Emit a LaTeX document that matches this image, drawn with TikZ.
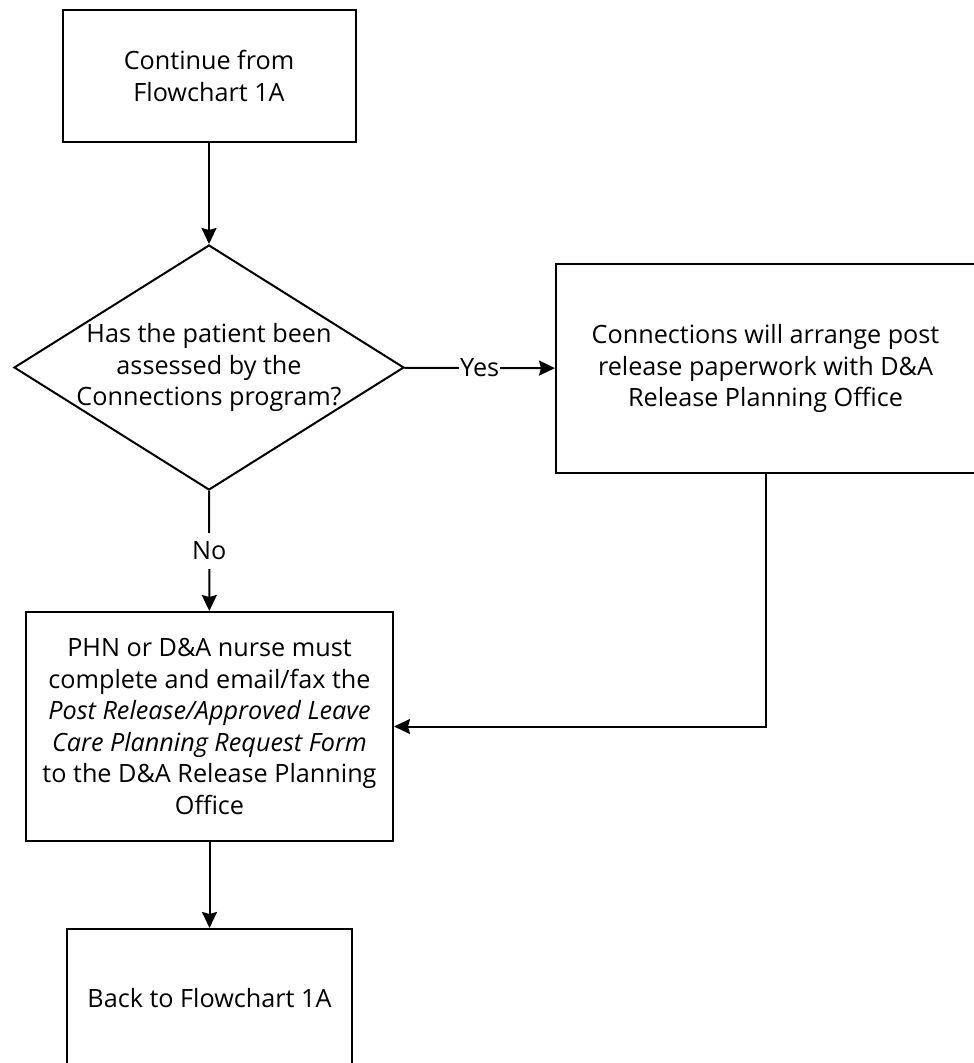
\documentclass[tikz,border=0pt]{standalone}
\usepackage{fontspec}
\setmainfont{Open Sans}
\usetikzlibrary{arrows.meta,shapes.geometric}

\begin{document}
\begin{tikzpicture}[x=0.5pt,y=-0.5pt,
  font=\fontsize{12.6}{15.75}\selectfont,
  box/.style={draw,line width=1pt,align=center,inner sep=0pt},
  decision/.style={draw,diamond,line width=1pt,inner sep=0pt,
    minimum width=195pt,minimum height=122.5pt},
  flow/.style={line width=1pt,-{Stealth[length=8pt,width=7.5pt,inset=1pt]}},
  answer/.style={fill=white,inner xsep=0.5pt,inner ysep=4.5pt}]
  \useasboundingbox (0,0) rectangle (973,1063);
  % Steps of the flow, top to bottom, and the branch on the right.
  \node[box,minimum width=146.5pt,minimum height=66pt] (start) at (209,76)
    {Continue from\\Flowchart 1A};
  \node[decision] (assessed) at (209,367.5) {};
  \node[align=center,inner sep=0pt] (question) at (assessed)
    {Has the patient been\\assessed by the\\Connections program?};
  \node[box,minimum width=209.5pt,minimum height=104.5pt] (arrange) at (765.5,368.5)
    {Connections will arrange post\\release paperwork with D\&A\\Release Planning Office};
  \node[box,minimum width=183.5pt,minimum height=114.5pt] (request) at (209.5,726.5)
    {PHN or D\&A nurse must\\complete and email/fax the\\\textit{Post Release/Approved Leave}\\
     \textit{Care Planning Request Form}\\to the D\&A Release Planning\\Office};
  \node[box,minimum width=142.5pt,minimum height=69pt] (back) at (209.5,998)
    {Back to Flowchart 1A};
  % Connectors.
  \draw[flow] (start) -- (assessed);
  \draw[flow] (assessed) -- node[answer] (yes) {Yes} (arrange);
  \draw[flow] (assessed) -- node[answer] (no) {No} (request);
  \draw[flow] (arrange.south) |- (request.east);
  \draw[flow] (request) -- (back);
\end{tikzpicture}
\end{document}
